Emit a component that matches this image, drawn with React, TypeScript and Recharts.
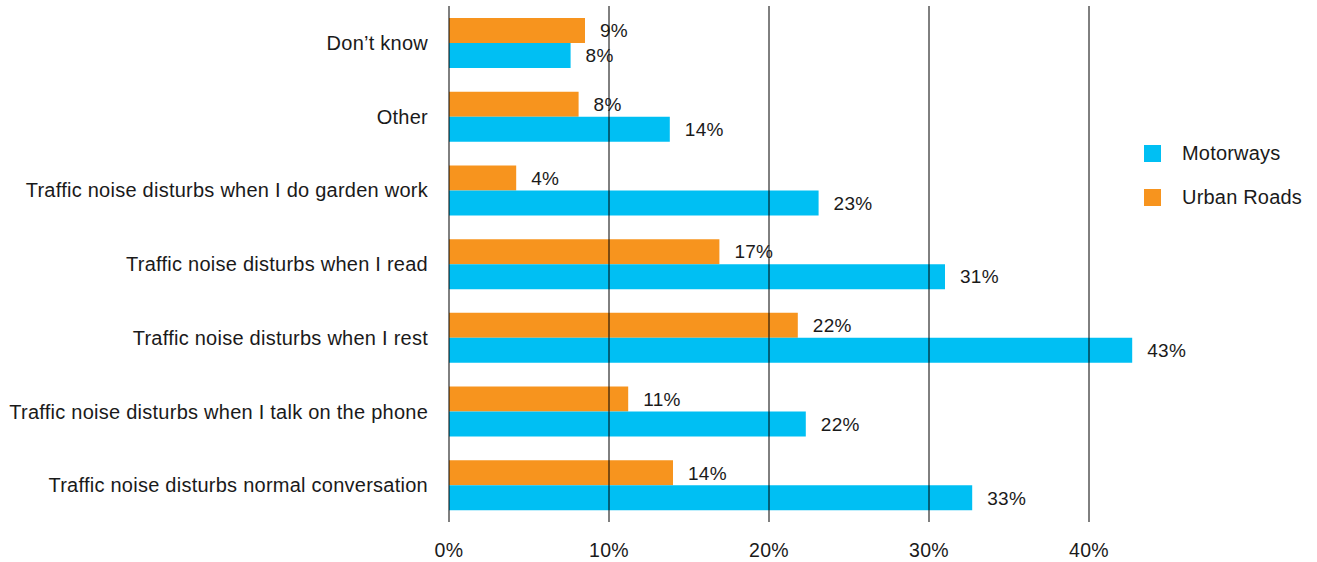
import { BarChart, Bar, XAxis, YAxis, ReferenceLine, LabelList } from 'recharts';

// Valores (porcentaje de encuestados)
const categories = [
  "Don\u2019t know",
  'Other',
  'Traffic noise disturbs when I do garden work',
  'Traffic noise disturbs when I read',
  'Traffic noise disturbs when I rest',
  'Traffic noise disturbs when I talk on the phone',
  'Traffic noise disturbs normal conversation',
];
const urbanRoads = [8.5, 8.1, 4.2, 16.9, 21.8, 11.2, 14.0];
const motorways = [7.6, 13.8, 23.1, 31.0, 42.7, 22.3, 32.7];
const xTicks = [0, 10, 20, 30, 40];

const BLUE = '#00BFF3';
const ORANGE = '#F7941E';
const TEXT = '#1a1a1a';
const FONT = '"Liberation Sans", Arial, Helvetica, sans-serif';

const data = categories.map((name, i) => ({
  name,
  urban: urbanRoads[i],
  motorways: motorways[i],
}));

const pct = (v: any) => `${Math.round(Number(v))}%`;

function Legend() {
  const items = [
    { label: 'Motorways', color: BLUE },
    { label: 'Urban Roads', color: ORANGE },
  ];
  return (
    <div style={{ position: 'absolute', left: 1144, top: 142, fontFamily: FONT, fontSize: 20, letterSpacing: 0.2, color: TEXT }}>
      {items.map((it) => (
        <div key={it.label} style={{ display: 'flex', alignItems: 'center', height: 22, marginBottom: 22 }}>
          <span style={{ width: 17, height: 17, background: it.color, display: 'inline-block', marginRight: 21 }} />
          <span>{it.label}</span>
        </div>
      ))}
    </div>
  );
}

const labelProps = { fill: TEXT, fontSize: 19, fontFamily: FONT, letterSpacing: 0.3 };

export default function App() {
  return (
    <div style={{ position: 'absolute', left: 0, top: 0, width: 1317, height: 562, background: '#fff' }}>
      <BarChart
        width={1317}
        height={562}
        data={data}
        layout="vertical"
        margin={{ top: 6, right: 148, bottom: 0, left: 0 }}
        barGap={0}
        barSize={25}
      >
        <XAxis
          type="number"
          domain={[0, 45]}
          ticks={xTicks}
          tickFormatter={pct}
          axisLine={false}
          tickLine={false}
          tickMargin={15}
          height={40}
          tick={{ fill: TEXT, fontSize: 19.5, fontFamily: FONT, letterSpacing: 0.3 }}
        />
        <YAxis
          type="category"
          dataKey="name"
          width={449}
          axisLine={false}
          tickLine={false}
          tickMargin={15}
          interval={0}
          tick={{ fill: TEXT, fontSize: 20, fontFamily: FONT, letterSpacing: 0.25 }}
        />
        <Bar dataKey="urban" fill={ORANGE} isAnimationActive={false}>
          <LabelList dataKey="urban" position="right" offset={15} formatter={pct} {...labelProps} />
        </Bar>
        <Bar dataKey="motorways" fill={BLUE} isAnimationActive={false}>
          <LabelList dataKey="motorways" position="right" offset={15} formatter={pct} {...labelProps} />
        </Bar>
        {xTicks.map((t) => (
          <ReferenceLine key={t} x={t} stroke="#000" strokeWidth={1} />
        ))}
      </BarChart>
      <Legend />
    </div>
  );
}
